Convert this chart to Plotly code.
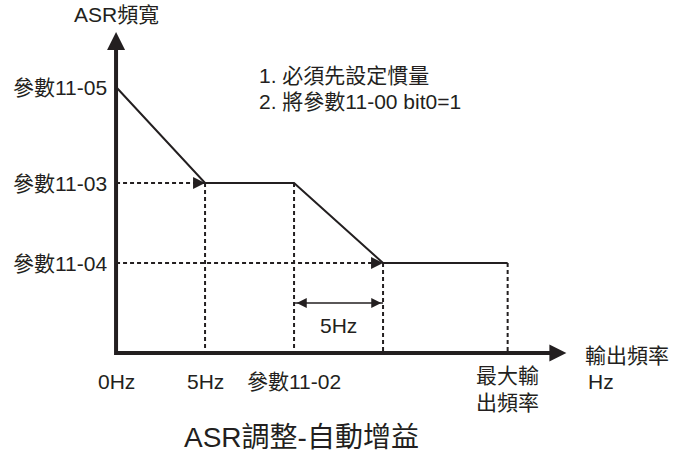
import plotly.graph_objects as go

INK = "#231f20"
FONT = "Liberation Sans, Noto Sans CJK TC"

# Breakpoints of the ASR bandwidth curve: output frequency (Hz) vs bandwidth level
freq = [0, 5, 10, 15, 22]
bandwidth = [26.6, 17, 17, 9, 9]

band_labels = ["參數11-05", "參數11-03", "參數11-04"]
freq_labels = ["0Hz", "5Hz", "參數11-02", "最大輸<br>出頻率"]
notes = ["1. 必須先設定慣量", "2. 將參數11-00 bit0=1"]
span_label = "5Hz"
span_height = 5
x_end, y_end = 25.3, 32.1


fig = go.Figure()

# axes drawn as one polyline plus arrowheads
fig.add_trace(go.Scatter(
    x=[0, 0, x_end - 0.6],
    y=[y_end - 1.0, 0, 0],
    mode="lines",
    line=dict(color=INK, width=4),
))
fig.add_trace(go.Scatter(
    x=[0], y=[y_end], mode="markers",
    marker=dict(symbol="arrow-up", size=18, color=INK, line=dict(width=0)),
))
fig.add_trace(go.Scatter(
    x=[x_end], y=[0], mode="markers",
    marker=dict(symbol="arrow-right", size=17, color=INK, line=dict(width=0)),
))

# dashed guide lines
gx, gy = [], []
for i in (1, 3):
    gx += [0, freq[i], None]
    gy += [bandwidth[i], bandwidth[i], None]
for i in (1, 2, 3, 4):
    gx += [freq[i], freq[i], None]
    gy += [bandwidth[i], 0, None]
fig.add_trace(go.Scatter(
    x=gx, y=gy, mode="lines",
    line=dict(color=INK, width=2, dash="4px,3px"),
))
fig.add_trace(go.Scatter(
    x=[freq[1], freq[3]], y=[bandwidth[1], bandwidth[3]], mode="markers",
    marker=dict(symbol="arrow-right", size=12, color=INK, line=dict(width=0)),
))

# main curve
fig.add_trace(go.Scatter(
    x=freq, y=bandwidth, mode="lines",
    line=dict(color=INK, width=2),
))

# 5 Hz span arrow
fig.add_trace(go.Scatter(
    x=[freq[2], freq[3]], y=[span_height, span_height], mode="lines",
    line=dict(color=INK, width=1.5),
))
fig.add_trace(go.Scatter(
    x=[freq[2] + 0.15, freq[3] - 0.1], y=[span_height, span_height], mode="markers",
    marker=dict(symbol=["arrow-left", "arrow-right"], size=10, color=INK,
                line=dict(width=0)),
))

ann = []
for lab, val in zip(band_labels, [bandwidth[0], bandwidth[1], bandwidth[3]]):
    ann.append(dict(x=0, y=val, text=lab, xanchor="right", yanchor="middle",
                    xshift=-7))
for lab, val in zip(freq_labels[:3], freq[:3]):
    ann.append(dict(x=val, y=0, text=lab, xanchor="center", yanchor="middle",
                    yshift=-28))
ann.append(dict(x=freq[4], y=0, text=freq_labels[3], xanchor="center",
                yanchor="middle", yshift=-36))
ann.append(dict(x=x_end, y=0, text="輸出頻率", xanchor="left", yanchor="middle",
                xshift=17, yshift=-2))
ann.append(dict(x=x_end, y=0, text="Hz", xanchor="left", yanchor="middle",
                xshift=20, yshift=-28))
ann.append(dict(x=0, y=y_end, text="ASR頻寬", xanchor="center", yanchor="bottom",
                yshift=4))
ann.append(dict(x=(freq[2] + freq[3]) / 2, y=span_height, text=span_label,
                xanchor="center", yanchor="middle", yshift=-22))
for k, note in enumerate(notes):
    ann.append(dict(x=0.3746, y=0.8355 - k * 0.057, xref="paper", yref="paper",
                    text=note, xanchor="left", yanchor="middle"))
ann.append(dict(x=0.44, y=0.04, xref="paper", yref="paper",
                text="ASR調整-自動增益", xanchor="center", yanchor="middle",
                font=dict(size=28)))
for a in ann:
    a.setdefault("xref", "x")
    a.setdefault("yref", "y")
    a.setdefault("font", dict(size=21))
    a["showarrow"] = False

fig.update_layout(
    width=686, height=456,
    margin=dict(l=0, r=0, t=0, b=0),
    paper_bgcolor="white", plot_bgcolor="white",
    showlegend=False, hovermode=False,
    font=dict(family=FONT, color=INK),
    xaxis=dict(range=[-6.52, 32.02], visible=False, fixedrange=True),
    yaxis=dict(range=[-10.3, 35.3], visible=False, fixedrange=True),
    annotations=ann,
)

fig.write_html("out.html", config={"displayModeBar": False},
               post_script="document.body.style.margin = '0';")
